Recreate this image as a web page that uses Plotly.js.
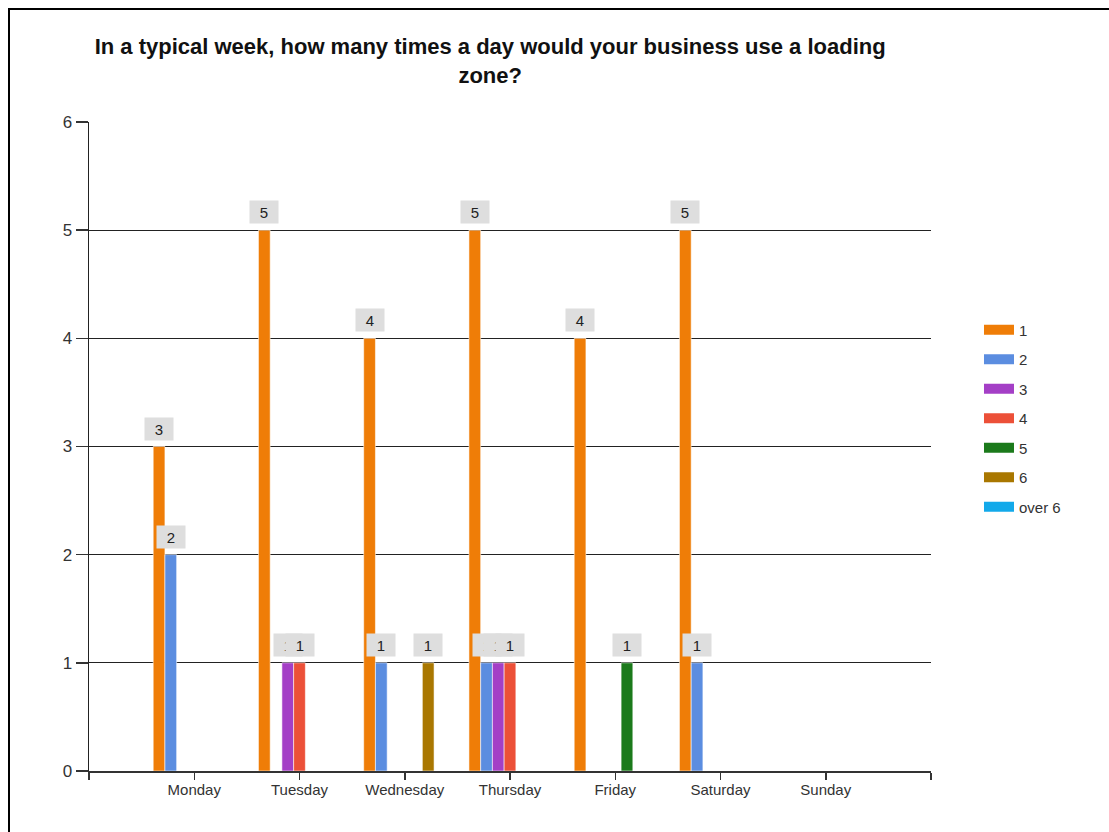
<!DOCTYPE html>
<html>
<head>
<meta charset="utf-8">
<script src="https://cdn.plot.ly/plotly-3.0.1.min.js"></script>
<style>
  html, body { margin: 0; padding: 0; background: #fff; }
  #wrap { position: relative; width: 1109px; height: 832px; }
  #frame { position: absolute; left: 8px; top: 8px; right: 0; bottom: 0;
           border-left: 2px solid #000; border-top: 2px solid #000; pointer-events: none; }
  #chart { width: 1109px; height: 832px; }
</style>
</head>
<body>
<div id="wrap">
  <div id="chart"></div>
  <div id="frame"></div>
</div>
<script>
const titleText = "In a typical week, how many times a day would your business use a loading<br>zone?";
const categories = ["Monday", "Tuesday", "Wednesday", "Thursday", "Friday", "Saturday", "Sunday"];
const seriesNames = ["1", "2", "3", "4", "5", "6", "over 6"];
const s1 = [3, 5, 4, 5, 4, 5, 0];
const s2 = [2, 0, 1, 1, 0, 1, 0];
const s3 = [0, 1, 0, 1, 0, 0, 0];
const s4 = [0, 1, 0, 1, 0, 0, 0];
const s5 = [0, 0, 0, 0, 1, 0, 0];
const s6 = [0, 0, 1, 0, 0, 0, 0];
const sOver6 = [0, 0, 0, 0, 0, 0, 0];
const yTicks = [0, 1, 2, 3, 4, 5, 6];

const seriesValues = [s1, s2, s3, s4, s5, s6, sOver6];
const colors = ["#ef7d07", "#5b8de0", "#a43fc6", "#ec5038", "#1b7a1b", "#a97700", "#12a9ea"];
const FONT = "Liberation Sans, Arial, sans-serif";

const xIdx = categories.map((_, i) => i);
const bargap = 0.22;
const nSeries = seriesNames.length;

const barTraces = seriesNames.map((name, k) => ({
  type: "bar",
  name: name,
  x: xIdx,
  y: seriesValues[k],
  showlegend: false,
  marker: { color: colors[k], line: { color: "rgba(255,255,255,0.55)", width: 1 } },
  hoverinfo: "x+y+name"
}));

// legend entries drawn as wide rectangular swatches
const legendTraces = seriesNames.map((name, k) => ({
  type: "scatter",
  mode: "lines",
  name: name,
  x: [null], y: [null],
  legendgroup: "g" + k,
  showlegend: true,
  line: { color: colors[k], width: 10 },
  hoverinfo: "skip"
}));

// data label boxes computed from the data and the group layout
const annotations = [];
const groupW = 1 - bargap;
const barW = groupW / nSeries;
seriesValues.forEach((vals, k) => {
  vals.forEach((v, i) => {
    if (v > 0) {
      annotations.push({
        x: i - groupW / 2 + (k + 0.5) * barW,
        y: v,
        xref: "x", yref: "y",
        text: String(v),
        showarrow: false,
        yanchor: "bottom",
        yshift: 6,
        width: 22, height: 16,
        bgcolor: "#dedede",
        borderpad: 3,
        font: { family: FONT, size: 15, color: "#222" }
      });
    }
  });
});

const tickVals = [-1].concat(xIdx, [categories.length]);
const tickText = [""].concat(categories, [""]);

const layout = {
  width: 1109, height: 832,
  margin: { l: 89, r: 178, t: 122, b: 61 },
  paper_bgcolor: "#fff", plot_bgcolor: "#fff",
  title: {
    text: titleText,
    font: { family: FONT, size: 22, color: "#111", weight: "bold" },
    x: 0.442, xanchor: "center", y: 0.935, yanchor: "top"
  },
  barmode: "group",
  bargap: bargap,
  bargroupgap: 0,
  showlegend: true,
  legend: {
    x: 1.057, xanchor: "left", y: 0.705, yanchor: "top",
    tracegroupgap: 7,
    font: { family: FONT, size: 15, color: "#333" }
  },
  xaxis: {
    range: [-1, categories.length],
    tickmode: "array", tickvals: tickVals, ticktext: tickText,
    ticks: "outside", ticklen: 7, tickcolor: "#333", tickwidth: 1.5,
    ticklabelstandoff: -3,
    showline: true, linecolor: "#333", linewidth: 1.5,
    showgrid: false, zeroline: false,
    tickfont: { family: FONT, size: 15, color: "#333" },
    fixedrange: true
  },
  yaxis: {
    range: [0, 6],
    tickmode: "array", tickvals: yTicks,
    ticks: "outside", ticklen: 12, tickcolor: "#333", tickwidth: 1.5,
    showline: true, linecolor: "#222", linewidth: 1.5,
    showgrid: true, gridcolor: "#222", gridwidth: 1.2,
    zeroline: false,
    tickfont: { family: FONT, size: 17, color: "#333" },
    fixedrange: true
  },
  annotations: annotations
};

Plotly.newPlot("chart", barTraces.concat(legendTraces), layout, { displayModeBar: false, staticPlot: true });
</script>
</body>
</html>
